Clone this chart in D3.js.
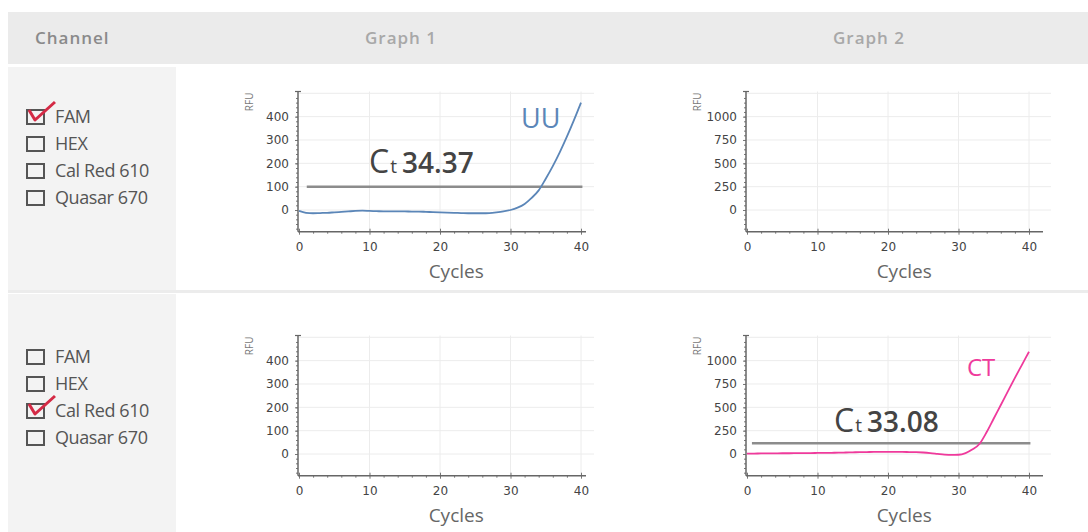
<!DOCTYPE html>
<html>
<head>
<meta charset="utf-8">
<script src="https://cdn.jsdelivr.net/npm/d3@7"></script>
<style>
  body { margin: 0; background: #fff; }
  svg { display: block; font-family: "Open Sans", sans-serif; }
</style>
</head>
<body>
<svg id="chart" width="1088" height="532"></svg>
<script>
'use strict'

var channels = ["FAM", "HEX", "Cal Red 610", "Quasar 670"],
    checkedRow = ["FAM", "Cal Red 610"],
    headers = ["Channel", "Graph 1", "Graph 2"],
    cycles = [0,1,2,3,4,5,6,7,8,9,10,11,12,13,14,15,16,17,18,19,20,
              21,22,23,24,25,26,27,28,29,30,31,32,33,34,35,36,37,38,39,40],
    uuValues = [-4,-12,-14,-13,-12,-10,-8,-6,-4,-3,-4,-5,-6,-6,-6,-6,-7,-7,-8,-9,-10,
                -11,-12,-13,-14,-14,-14,-13,-10,-6,0,10,26,52,84,134,188,248,314,385,460],
    ctValues = [5,5,6,6,7,8,8,9,10,10,11,12,13,14,16,18,20,21,22,22,22,
                22,22,21,20,16,10,2,-6,-10,-8,10,50,110,235,380,525,670,815,955,1095],
    xTicks = [0, 10, 20, 30, 40],
    xMinor = [2,4,6,8,12,14,16,18,22,24,26,28,32,34,36,38],
    yTicksSmall = [0, 100, 200, 300, 400],
    yTicksLarge = [0, 250, 500, 750, 1000],
    uuThreshold = 100,
    ctThreshold = 115,
    uuCt = "34.37",
    ctCt = "33.08";

var svg = d3.select("#chart");

// table background
svg.append("rect").attr("x", 8).attr("y", 12).attr("width", 1080).attr("height", 52).attr("fill", "#ebebeb");
svg.append("rect").attr("x", 8).attr("y", 67).attr("width", 168).attr("height", 223).attr("fill", "#f3f3f3");
svg.append("rect").attr("x", 8).attr("y", 294).attr("width", 168).attr("height", 238).attr("fill", "#f3f3f3");
svg.append("rect").attr("x", 8).attr("y", 290).attr("width", 1080).attr("height", 3).attr("fill", "#ececec");

var headX = [35, 401, 869];
svg.selectAll("text.head")
  .data(headers)
  .enter().append("text")
    .attr("class", "head")
    .attr("x", (d, i) => headX[i])
    .attr("y", 44)
    .attr("text-anchor", (d, i) => i === 0 ? "start" : "middle")
    .attr("font-size", 17)
    .attr("font-weight", 600)
    .attr("letter-spacing", 1)
    .attr("fill", (d, i) => i === 0 ? "#8a8a8a" : "#a8a8a8")
    .text(d => d);

// channel check lists
function checkList(top, checked) {
  var g = svg.append("g");
  var item = g.selectAll("g")
    .data(channels)
    .enter().append("g")
      .attr("transform", (d, i) => "translate(27," + (top + i * 27) + ")");
  item.append("rect")
    .attr("x", 0).attr("y", -7).attr("width", 17).attr("height", 14)
    .attr("fill", "none").attr("stroke", "#555").attr("stroke-width", 2);
  item.append("text")
    .attr("x", 28).attr("y", 6)
    .attr("font-size", 18)
    .attr("letter-spacing", -0.4)
    .attr("fill", "#555")
    .text(d => d);
  item.filter(d => d === checked)
    .append("path")
      .attr("d", "M2,-7 L8,3 L28,-15")
      .attr("fill", "none")
      .attr("stroke", "#d42a45")
      .attr("stroke-width", 3)
      .attr("stroke-linejoin", "round");
}
checkList(117, checkedRow[0]);
checkList(357, checkedRow[1]);

// one amplification plot
function panel(opt) {
  var g = svg.append("g");
  var x = d3.scaleLinear().domain([0, 40]).range([opt.left, opt.left + 282]);
  var y = d3.scaleLinear().domain([0, opt.yTop]).range([opt.zero, opt.zero - 116.7]);
  var bottom = opt.zero + 21.7,
      top = opt.zero - 118.5,
      right = opt.left + opt.axisRight;

  // grid
  g.append("g").selectAll("line")
    .data(opt.yTicks.concat([opt.yTop]))
    .enter().append("line")
      .attr("x1", opt.left).attr("x2", right + 8)
      .attr("y1", d => y(d)).attr("y2", d => y(d))
      .attr("stroke", "#ececec");
  g.append("g").selectAll("line")
    .data(xTicks.slice(1))
    .enter().append("line")
      .attr("x1", d => x(d)).attr("x2", d => x(d))
      .attr("y1", top).attr("y2", bottom)
      .attr("stroke", "#ececec");

  // axes
  g.append("g").attr("transform", "translate(0," + bottom + ")")
    .call(d3.axisBottom(x).tickValues(xTicks).tickSize(3).tickPadding(8));
  g.append("g").attr("transform", "translate(0," + bottom + ")")
    .call(d3.axisTop(x).tickValues(xTicks).tickSize(3).tickFormat(""));
  g.append("g").attr("transform", "translate(0," + bottom + ")")
    .call(d3.axisBottom(x).tickValues(xMinor).tickSize(2).tickFormat(""));
  g.append("g").attr("transform", "translate(" + (opt.left - 1) + ",0)")
    .call(d3.axisLeft(y).tickValues(opt.yTicks).tickSize(3).tickPadding(6).tickFormat(d3.format("d")));
  g.append("g").attr("transform", "translate(" + (opt.left - 1) + ",0)")
    .call(d3.axisLeft(y).tickValues(opt.yMinor).tickSize(2).tickFormat(""));
  g.selectAll(".domain").remove();
  g.selectAll(".tick line").attr("stroke", "#777");
  g.selectAll(".tick text").attr("font-size", 12).attr("fill", "#444")
    .attr("font-family", "DejaVu Sans, sans-serif");
  g.append("line")
    .attr("x1", opt.left - 1).attr("x2", right)
    .attr("y1", bottom).attr("y2", bottom)
    .attr("stroke", "#666").attr("stroke-width", 1.5);
  g.append("line")
    .attr("x1", opt.left - 1).attr("x2", opt.left - 1)
    .attr("y1", top).attr("y2", bottom)
    .attr("stroke", "#666").attr("stroke-width", 1.5);
  g.append("line")
    .attr("x1", opt.left - 4).attr("x2", opt.left + 2)
    .attr("y1", top).attr("y2", top)
    .attr("stroke", "#666").attr("stroke-width", 1.2);

  g.append("text")
    .attr("transform", "translate(" + (opt.left - 46) + "," + (top + 1) + ") rotate(-90)")
    .attr("text-anchor", "end")
    .attr("font-size", 10)
    .attr("fill", "#777")
    .text("RFU");
  g.append("text")
    .attr("x", x(22.3)).attr("y", bottom + 46)
    .attr("text-anchor", "middle")
    .attr("font-size", 19)
    .attr("fill", "#666")
    .text("Cycles");

  if (opt.values) {
    g.append("line")
      .attr("x1", x(opt.thrFrom)).attr("x2", x(40.2))
      .attr("y1", y(opt.threshold)).attr("y2", y(opt.threshold))
      .attr("stroke", "#8c8c8c").attr("stroke-width", 2.5);
    var line = d3.line()
      .x((d, i) => x(cycles[i]))
      .y(d => y(d))
      .curve(d3.curveMonotoneX);
    g.append("path")
      .datum(opt.values)
      .attr("d", line)
      .attr("fill", "none")
      .attr("stroke", opt.color)
      .attr("stroke-width", 1.8);
    var ct = g.append("text")
      .attr("x", opt.ctX).attr("y", opt.ctY)
      .attr("fill", "#444");
    ct.append("tspan").attr("font-size", 32).text("C");
    ct.append("tspan").attr("font-size", 19).attr("dx", 1).text("t");
    ct.append("tspan").attr("font-size", 28).attr("font-weight", 600).attr("dx", 5).text(opt.ct);
    g.append("text")
      .attr("x", opt.labelX).attr("y", opt.labelY)
      .attr("font-size", opt.labelSize)
      .attr("fill", opt.color)
      .text(opt.label);
  }
}

panel({left: 299, zero: 210, yTop: 500, yTicks: yTicksSmall, yMinor: d3.range(-80, 500, 20),
       axisRight: 287, values: uuValues, color: "#5b86b8", threshold: uuThreshold, thrFrom: 1.1,
       ct: uuCt, ctX: 369, ctY: 173, label: "UU", labelX: 521, labelY: 128, labelSize: 27});
panel({left: 747, zero: 210, yTop: 1250, yTicks: yTicksLarge, yMinor: d3.range(-200, 1250, 50),
       axisRight: 296});
panel({left: 299, zero: 454, yTop: 500, yTicks: yTicksSmall, yMinor: d3.range(-80, 500, 20),
       axisRight: 287});
panel({left: 747, zero: 454, yTop: 1250, yTicks: yTicksLarge, yMinor: d3.range(-200, 1250, 50),
       axisRight: 296, values: ctValues, color: "#ef3a9c", threshold: ctThreshold, thrFrom: 0.7,
       ct: ctCt, ctX: 834, ctY: 432, label: "CT", labelX: 967, labelY: 376, labelSize: 24});
</script>
</body>
</html>
